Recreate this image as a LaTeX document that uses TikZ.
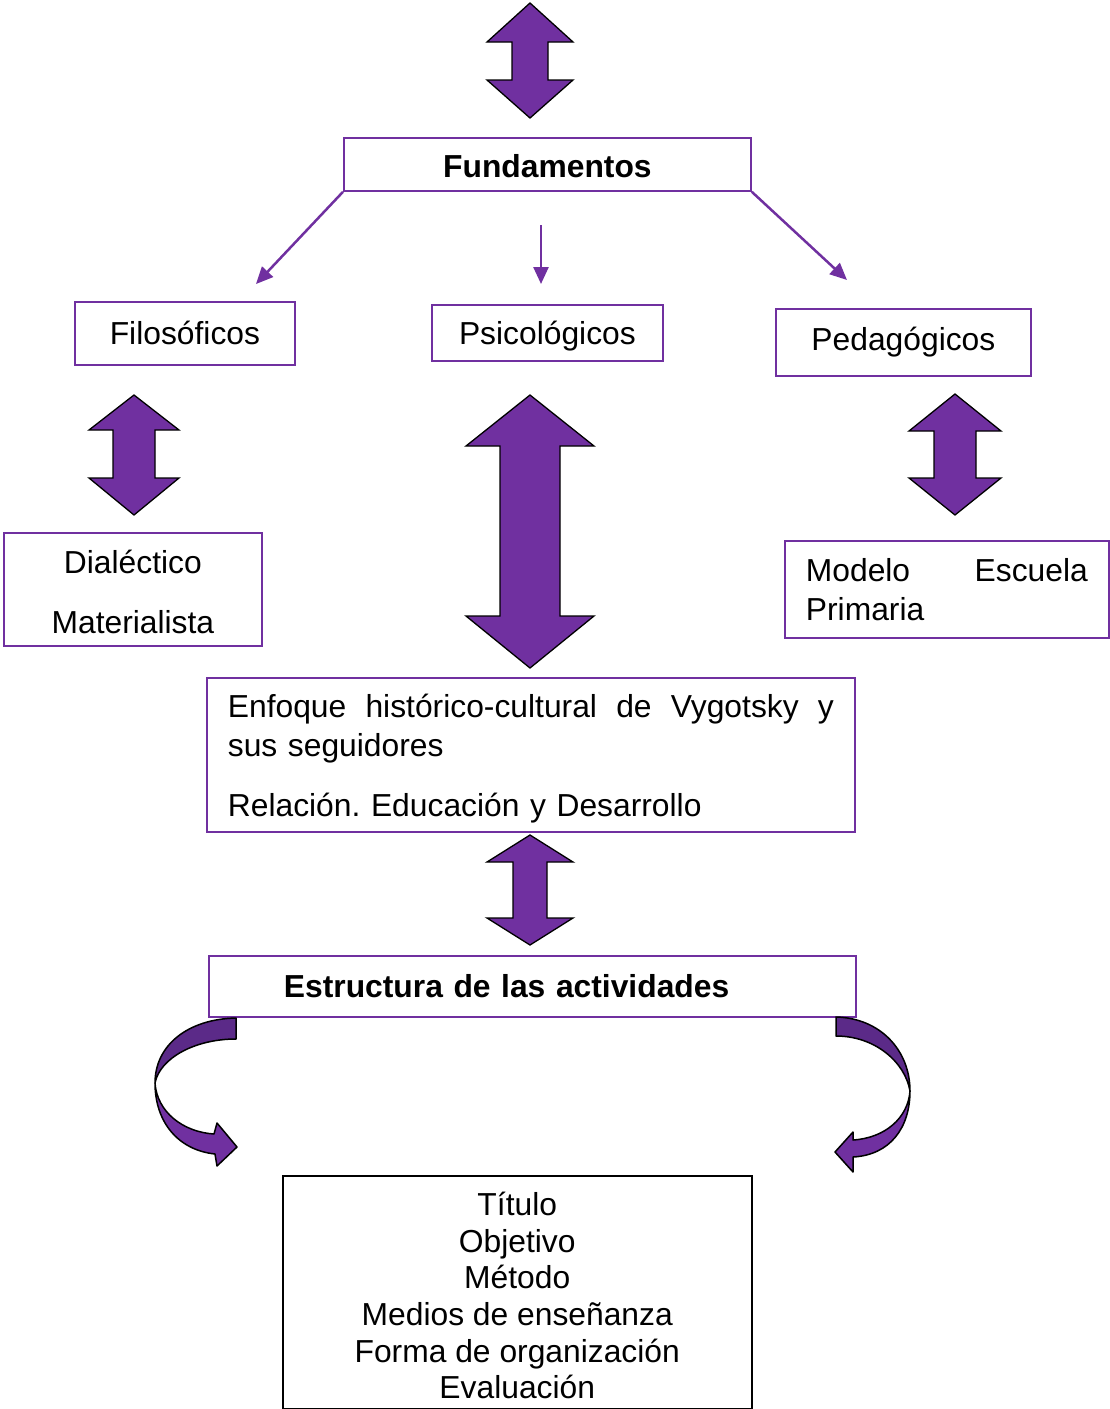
\documentclass[tikz,border=0pt]{standalone}
\usepackage{fontspec}
\setmainfont{Liberation Sans}
\usetikzlibrary{arrows.meta}
\definecolor{vio}{HTML}{7030A0}
\definecolor{viodark}{HTML}{5B2A88}
\newcommand{\fsz}[1]{\fontsize{31.8}{#1}\selectfont\frenchspacing}
\newcommand{\dblarr}[7]{%
  \filldraw[fill=vio,draw=black,line width=1.3pt,line join=miter]
  (#1,#2) -- (#1+#6,#3) -- (#1+#7,#3) -- (#1+#7,#4) -- (#1+#6,#4) -- (#1,#5)
  -- (#1-#6,#4) -- (#1-#7,#4) -- (#1-#7,#3) -- (#1-#6,#3) -- cycle;}
\begin{document}
\begin{tikzpicture}[x=1pt,y=-1pt,
  box/.style={draw=vio,line width=1.8pt,inner sep=0pt,anchor=north west,font=\fsz{38}},
  conn/.style={draw=vio,line width=2.5pt,-{Triangle[length=17pt,width=15pt]}},
  curv/.style={draw=black,line width=1.5pt,line join=round}]
\useasboundingbox (0,0) rectangle (1109,1409);

% block double arrows
\dblarr{530}{3}{42}{80}{118}{43}{18}
\dblarr{134}{395}{430}{478}{515}{45}{21}
\dblarr{530}{395}{446}{616}{668}{64}{30}
\dblarr{955}{394}{431}{478}{515}{46}{21}
\dblarr{530}{835}{862}{918}{945}{43}{17}

% boxes
\node[box,minimum width=407,minimum height=53,font=\fsz{38}\bfseries] (fund) at (343,137) {\rule{0pt}{26pt}Fundamentos};
\node[box,minimum width=220,minimum height=63] (filo) at (74,301) {Filosóficos};
\node[box,minimum width=231,minimum height=56,text depth=0pt] (psic) at (431,304) {Psicológicos};
\node[box,minimum width=255,minimum height=67] (peda) at (775,308) {Pedagógicos};
\node[box,minimum width=258,minimum height=113,align=center,font=\fsz{60}] (dial) at (3,532) {\rule{0pt}{29pt}Dialéctico\\Materialista};
\node[box,minimum height=97,text width=282,inner xsep=21,align=left,font=\fsz{39}] (mod) at (784,540)
  {\hbox to 282pt{Modelo\hfill Escuela}\\Primaria};
\node[box,minimum height=154,text width=606,inner xsep=21,align=left,font=\fsz{39}] (enf) at (206,677)
  {\hbox to 606pt{\rule{0pt}{31pt}Enfoque\hfill histórico-cultural\hfill de\hfill Vygotsky\hfill y}\\sus seguidores\\[21pt]Relación. Educación y Desarrollo};
\node[box,minimum height=61,text width=497,inner xsep=75,align=left,font=\fsz{38}\bfseries] (est) at (208,955)
  {Estructura de las actividades};
\node[box,draw=black,line width=1.5pt,minimum width=469,minimum height=233,align=center,font=\fsz{36.7}] (res) at (282,1175)
  {\rule{0pt}{30pt}Título\\Objetivo\\Método\\Medios de enseñanza\\Forma de organización\\Evaluación};

% straight connectors
\coordinate (a1) at (256,284);
\coordinate (m0) at (541,225);
\coordinate (m1) at (541,284);
\coordinate (a3) at (847,280);
\draw[conn] (fund.south west) -- (a1);
\draw[conn] (m0) -- (m1);
\draw[conn] (fund.south east) -- (a3);

% left curved arrow
\filldraw[curv,fill=viodark] (236,1018) .. controls (188,1019) and (155,1045) .. (155,1083)
  .. controls (160,1058) and (195,1039) .. (236,1039) -- cycle;
\filldraw[curv,fill=vio] (155,1083) .. controls (157,1112) and (183,1132) .. (214,1134)
  -- (217,1123) -- (237,1147) -- (217,1166) -- (215,1154)
  .. controls (178,1150) and (155,1122) .. (155,1083) -- cycle;

% right curved arrow
\filldraw[curv,fill=viodark] (836,1017) .. controls (880,1018) and (910,1050) .. (910,1091)
  .. controls (905,1062) and (875,1036) .. (836,1036) -- cycle;
\filldraw[curv,fill=vio] (910,1091) .. controls (908,1118) and (885,1138) .. (853,1140)
  -- (853,1132) -- (835,1152) -- (853,1172) -- (853,1157)
  .. controls (890,1155) and (910,1128) .. (910,1091) -- cycle;
\end{tikzpicture}
\end{document}
